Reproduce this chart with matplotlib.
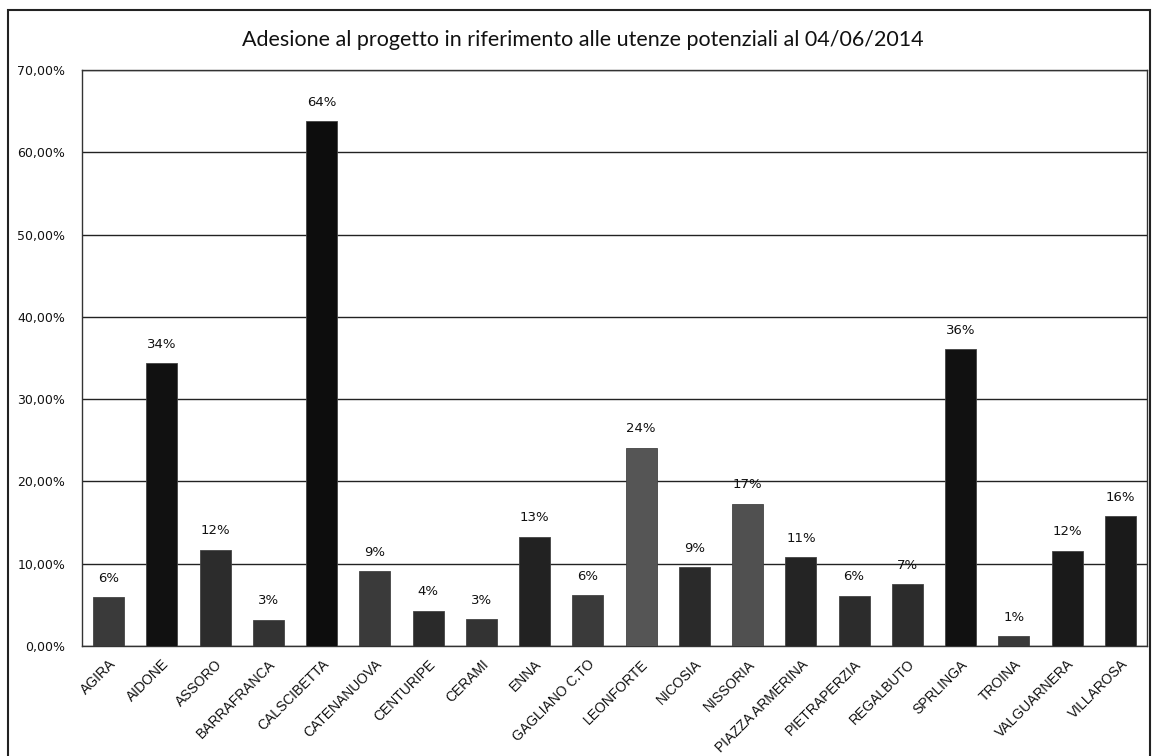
import matplotlib
matplotlib.use("Agg")
import matplotlib.pyplot as plt
from matplotlib.patches import Rectangle
from matplotlib.ticker import FuncFormatter

categories = ["AGIRA", "AIDONE", "ASSORO", "BARRAFRANCA", "CALSCIBETTA", "CATENANUOVA",
              "CENTURIPE", "CERAMI", "ENNA", "GAGLIANO C.TO", "LEONFORTE", "NICOSIA",
              "NISSORIA", "PIAZZA ARMERINA", "PIETRAPERZIA", "REGALBUTO", "SPRLINGA",
              "TROINA", "VALGUARNERA", "VILLAROSA"]
values = [5.9, 34.4, 11.7, 3.2, 63.8, 9.1, 4.3, 3.3, 13.3, 6.2, 24.1, 9.6, 17.3,
          10.8, 6.1, 7.5, 36.1, 1.2, 11.6, 15.8]
labels = ["6%", "34%", "12%", "3%", "64%", "9%", "4%", "3%", "13%", "6%", "24%", "9%",
          "17%", "11%", "6%", "7%", "36%", "1%", "12%", "16%"]
title = "Adesione al progetto in riferimento alle utenze potenziali al 04/06/2014"

bar_colors = ["#3a3a3a", "#111111", "#2c2c2c", "#333333", "#0d0d0d", "#3a3a3a",
              "#2a2a2a", "#333333", "#222222", "#3a3a3a", "#555555", "#2a2a2a",
              "#505050", "#242424", "#2c2c2c", "#2c2c2c", "#111111", "#3a3a3a",
              "#1a1a1a", "#1a1a1a"]

fig = plt.figure(figsize=(11.57, 7.56), dpi=100)
ax = fig.add_axes([82/1157, 1 - 646/756, (1147-82)/1157, (646-70)/756])

x = range(len(categories))
bars = ax.bar(x, values, width=0.58, color=bar_colors, edgecolor="#444444", linewidth=0.6, zorder=3)
for b, lab in zip(bars, labels):
    ax.text(b.get_x() + b.get_width()/2, b.get_height() + 1.5, lab,
            ha="center", va="bottom", fontsize=9.5, family="DejaVu Sans", color="#111111")

ax.set_ylim(0, 70)
ax.set_xlim(-0.5, len(categories) - 0.5)
ax.set_yticks(range(0, 71, 10))
ax.yaxis.set_major_formatter(FuncFormatter(lambda v, p: f"{v:.2f}%".replace(".", ",")))
ax.grid(axis="y", color="#222222", linewidth=1.0, zorder=0)
ax.set_xticks(list(x))
ax.set_xticklabels(categories, rotation=45, ha="right", rotation_mode="anchor",
                   fontsize=10, family=["Liberation Sans", "DejaVu Sans"])
ax.tick_params(axis="both", length=0, colors="#111111")
ax.tick_params(axis="y", pad=12, labelsize=9)
ax.tick_params(axis="x", pad=8)
for side in ["left", "right", "top", "bottom"]:
    ax.spines[side].set_color("#333333")
    ax.spines[side].set_linewidth(1.0)
ax.spines["left"].set_linestyle((0, (2, 1)))

fig.text(583/1157, 1 - 40/756, title, ha="center", va="center", fontsize=15.5,
         family=["Lato", "DejaVu Sans"], color="#111111")

frame = Rectangle((8/1157, -0.02), (1150-8)/1157, 1 - 10/756 + 0.02,
                  transform=fig.transFigure, fill=False, edgecolor="#222222",
                  linewidth=1.5)
fig.patches.append(frame)

fig.savefig("out.png", dpi=100)
